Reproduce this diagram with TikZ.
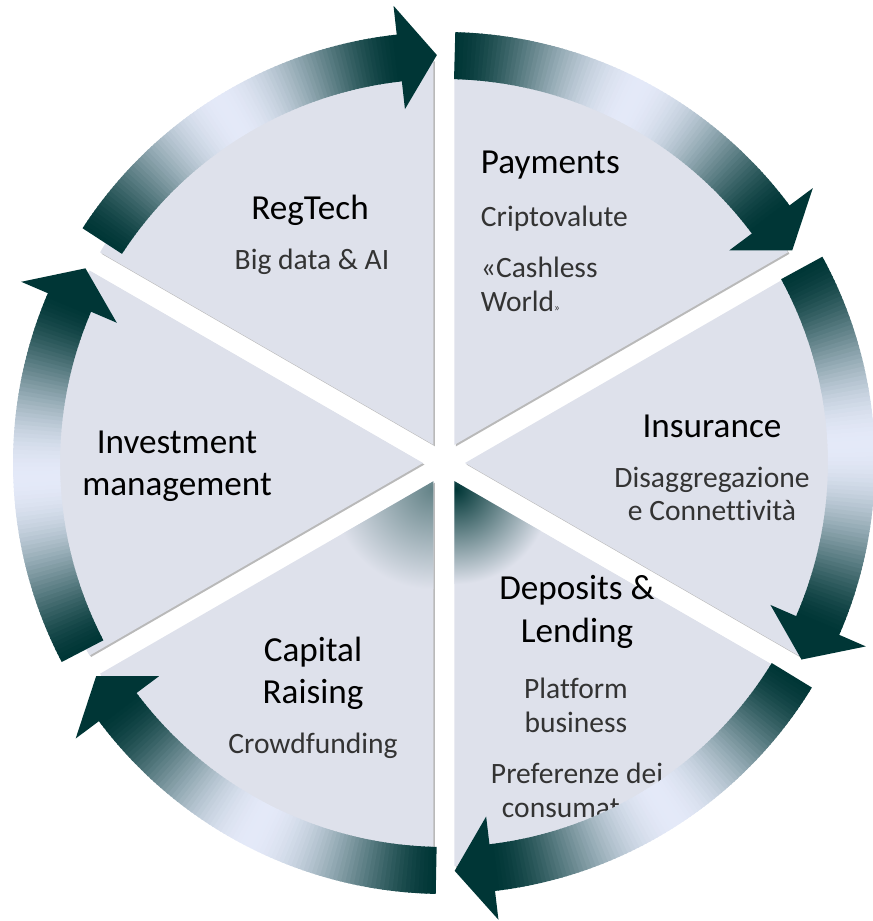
\documentclass[tikz,border=0pt]{standalone}
\usepackage{fontspec}
\setmainfont{Carlito}[Ligatures=NoCommon]
\usepackage{xcolor}
\usepackage{tikz}
\usetikzlibrary{calc}

\definecolor{wedgefill}{HTML}{DEE1EB}
\definecolor{bandlight}{HTML}{E4E9F8}
\definecolor{banddark}{HTML}{003636}

\tikzset{
  title/.style={font=\fontsize{25}{30}\selectfont, align=center, text=black},
  subtext/.style={font=\fontsize{21}{24}\selectfont, align=center, text=black!80},
}

\begin{document}
\begin{tikzpicture}[x=0.025cm, y=0.025cm]
  \useasboundingbox (-444,-458) rectangle (429,463);

  \foreach \s in {90,30,-30,-90,-150,150} {
    \pgfmathsetmacro\b{\s+30}
    \fill[gray!55, shift={(1.5,-1.5)}] (\b:21) -- ++(\s:385) arc[start angle=\s, end angle=\s+60, radius=385] -- cycle;
    \fill[wedgefill] (\b:21) -- ++(\s:385) arc[start angle=\s, end angle=\s+60, radius=385] -- cycle;
  }
  \begin{scope}
    \clip (-60:21) -- ++(-90:385) arc[start angle=-90, end angle=-30, radius=385] -- cycle;
    \shade[inner color=banddark, outer color=wedgefill] (-60:21) ++(-80:8) circle (95);
  \end{scope}
  \begin{scope}
    \clip (-120:21) -- ++(-150:385) arc[start angle=-150, end angle=-90, radius=385] -- cycle;
    \shade[inner color=banddark!55!wedgefill, outer color=wedgefill] (-120:21) ++(-100:8) circle (100);
  \end{scope}

  \node[title] (regtech) at (-134,253) {RegTech};
  \node[subtext] (bigdata) at (-132,201) {Big data \& AI};
  \node[title, anchor=west] (payments) at (32,298) {Payments};
  \node[subtext, anchor=west] (cripto) at (32,244) {Criptovalute};
  \node[subtext, anchor=west, align=left] (cashless) at (32,179) {«Cashless\\World{\footnotesize »}};
  \node[title] (insurance) at (268,37) {Insurance};
  \node[subtext] (disagg) at (268,-31) {Disaggregazione\\e Connettività};
  \node[title] (invest) at (-267,-3) {Investment\\management};
  \node[title] (deposits) at (133,-149) {Deposits \&\\Lending};
  \node[subtext] (platform) at (132,-242) {Platform\\business};
  \node[subtext] (prefer) at (133,-327) {Preferenze dei\\consumatori};
  \node[title] (capital) at (-131,-210) {Capital\\Raising};
  \node[subtext] (crowd) at (-131,-283) {Crowdfunding};

  \foreach \ta/\tb in {147/91, 88.5/31.4, 28.6/-28.8, -31.4/-88.5, -91.1/-148.5, -152.5/-208.5} {
    \pgfmathsetmacro\hb{\tb+5.3}
    \foreach \i in {0,...,89} {
      \pgfmathsetmacro\aa{\ta-(\ta-\hb)*\i/90}
      \pgfmathsetmacro\ab{\ta-(\ta-\hb)*(\i+1)/90-0.2}
      \pgfmathsetmacro\m{100*sin(180*(\i+0.5)/90)^1.6}
      \fill[bandlight!\m!banddark] (\aa:384) arc[start angle=\aa, end angle=\ab, radius=384] -- (\ab:431) arc[start angle=\ab, end angle=\aa, radius=431] -- cycle;
    }
    \fill[banddark] (\hb:356) -- (\tb:408) -- (\hb:460) -- cycle;
  }
\end{tikzpicture}
\end{document}
